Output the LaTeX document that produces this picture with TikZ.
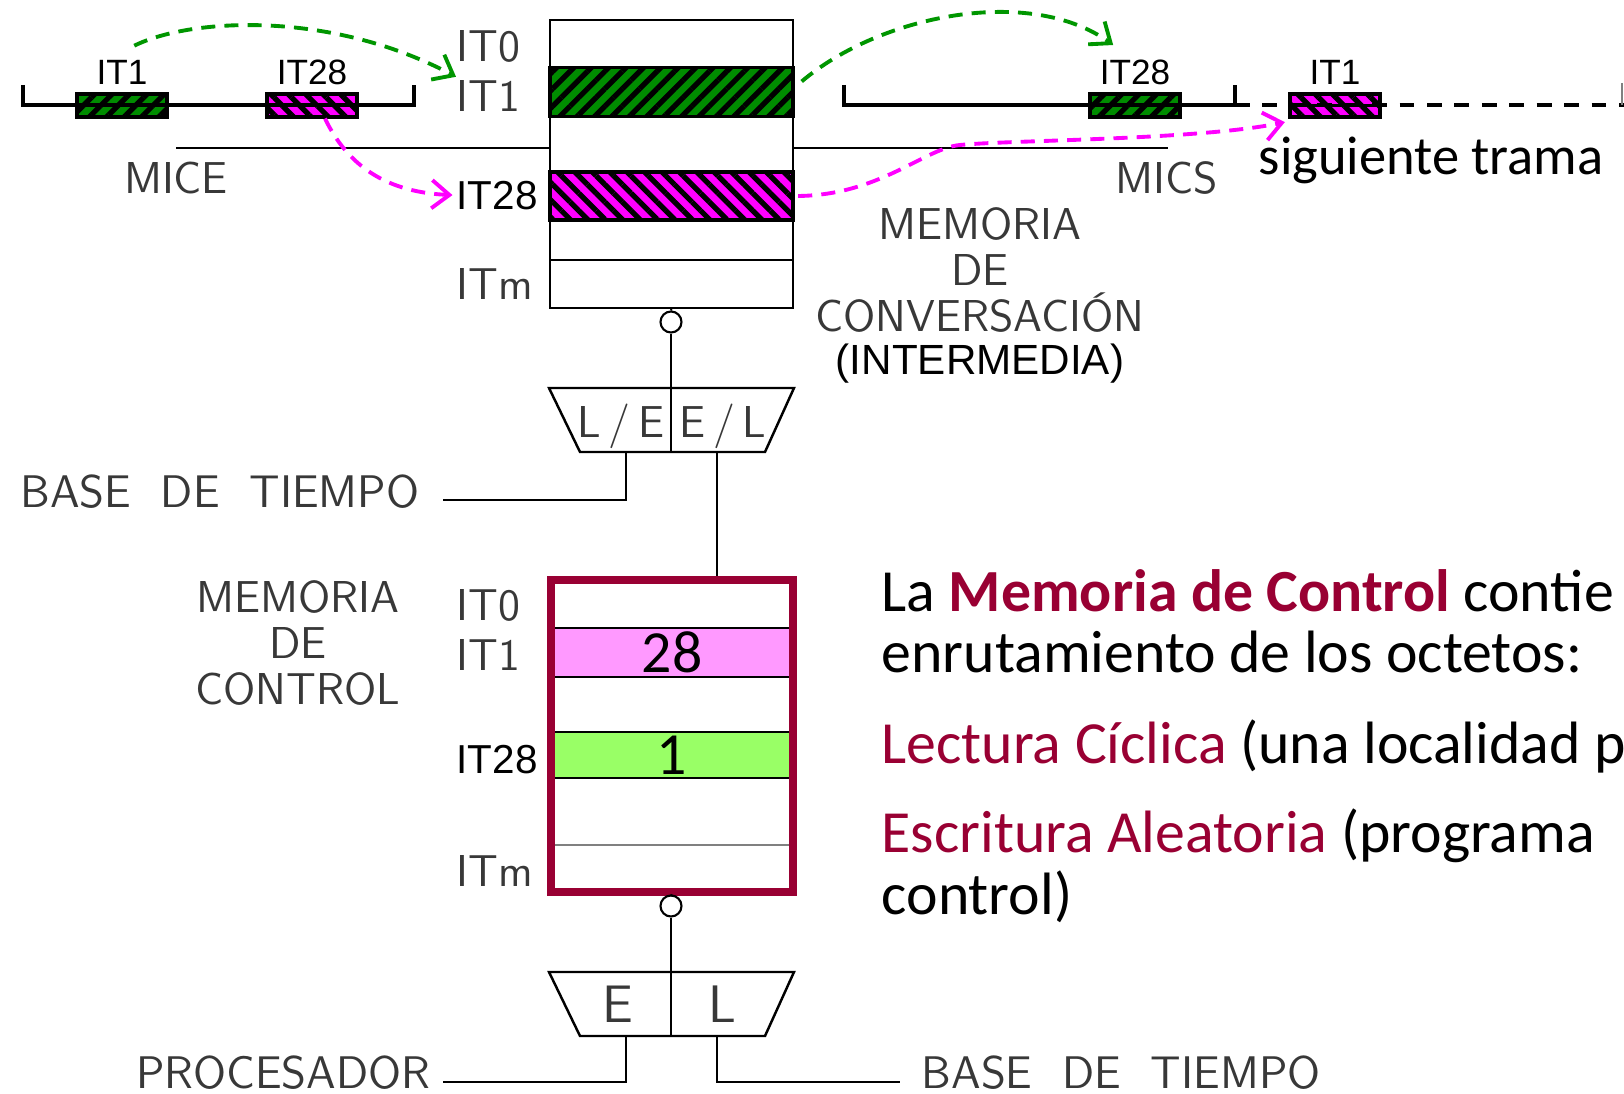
\documentclass[tikz,border=0pt]{standalone}
\usepackage{fontspec}
\usepackage{tikz}
\usetikzlibrary{arrows.meta, positioning, patterns.meta}
\newfontfamily\comicfont{Carlito}
\newfontfamily\arialfont{Liberation Sans}
\definecolor{memred}{RGB}{153,0,51}
\definecolor{hatchgreen}{RGB}{0,140,0}
\definecolor{arrowgreen}{RGB}{0,150,0}
\definecolor{slotpink}{RGB}{255,0,255}
\definecolor{cmpink}{RGB}{255,153,255}
\definecolor{cmgreen}{RGB}{153,255,102}
\definecolor{cadgray}{gray}{0.22}

\begin{document}
\begin{tikzpicture}[x=0.01cm,y=-0.01cm,
  cad/.style={font=\sffamily\fontsize{12.7}{13}\selectfont,text=cadgray,inner sep=0pt},
  cadbig/.style={font=\sffamily\fontsize{13}{13}\selectfont,text=cadgray,inner sep=0pt},
  arlbl/.style={font=\arialfont\fontsize{11.5}{12}\selectfont,inner sep=0pt},
  slotlbl/.style={font=\arialfont\fontsize{10}{10}\selectfont,inner sep=0pt},
  body/.style={font=\comicfont\fontsize{17}{20}\selectfont,anchor=base west,inner sep=0pt},
  memline/.style={line width=0.6pt},
  frameline/.style={line width=1pt},
  slot/.style={draw,line width=0.9pt,minimum width=0.9cm,minimum height=0.23cm,inner sep=0pt},
  gslot/.style={slot,fill=hatchgreen,postaction={pattern={Lines[angle=45,distance=3.5pt,line width=1.5pt]}}},
  mslot/.style={slot,fill=slotpink,postaction={pattern={Lines[angle=-45,distance=3.5pt,line width=1.5pt]}}},
  cmrow/.style={draw,line width=0.8pt,minimum width=2.42cm,inner sep=0pt,font=\comicfont\fontsize{17}{17}\selectfont},
  port/.style={circle,draw,memline,fill=white,minimum size=0.21cm,inner sep=0pt},
  flow/.style={line width=1.1pt,dash pattern=on 4pt off 2.6pt,-{Straight Barb[length=5pt,width=8pt]}}]
  \useasboundingbox (0,0) rectangle (1624,1094);

  \node[gslot] (sA) at (122,105.5) {};
  \node[mslot] (sB) at (312,105.5) {};
  \node[gslot] (rB) at (1135,105.5) {};
  \node[mslot] (rA) at (1335,105.5) {};
  \node[slotlbl,above=2pt of sA] (lA) {IT1};
  \node[slotlbl,above=2pt of sB] (lB) {IT28};
  \node[slotlbl,above=2pt of rB] (lrB) {IT28};
  \node[slotlbl,above=2pt of rA] (lrA) {IT1};
  \draw[frameline] (23,85) -- (23,105) -- (414,105) -- (414,85);
  \draw[frameline] (844,85) -- (844,105) -- (1235,105) -- (1235,85);
  \draw[frameline,dash pattern=on 4.2pt off 3.6pt] (1235,105) -- (1624,105);
  \draw[frameline] (rA.west) -- (rA.east);
  \draw[gray,line width=0.8pt] (1622,83) -- (1622,105);
  \node[body,font=\comicfont\fontsize{15.5}{18}\selectfont] (next) at (1258,175) {siguiente trama};

  \draw[memline] (176,148) -- (550,148);
  \draw[memline] (793,148) -- (1168,148);
  \node[cad,anchor=base] (mice) at (176,193) {MICE};
  \node[cad,anchor=base] (mics) at (1167,193) {MICS};

  \node[draw,memline,minimum width=2.43cm,minimum height=2.88cm,inner sep=0pt] (cvbox) at (671.5,164) {};
  \foreach \yy in {67,117,172,220,260}{
    \draw[memline] (550,\yy) -- (793,\yy);}
  \node[gslot,minimum width=2.43cm,minimum height=0.49cm] (cvg) at (671.5,92) {};
  \node[mslot,minimum width=2.43cm,minimum height=0.48cm] (cvm) at (671.5,196) {};
  \node[cad,anchor=base west] (cvl0) at (456,62) {IT0};
  \node[cad,anchor=base west] (cvl1) at (456,112) {IT1};
  \node[arlbl,anchor=base west] (cvl28) at (456,209) {IT28};
  \node[cad,anchor=base west] (cvlm) at (456,300) {ITm};
  \node[cad,align=center,anchor=north] (cvname) at (980,207) {MEMORIA\\DE\\CONVERSACIÓN};
  \node[arlbl,font=\arialfont\fontsize{12}{12}\selectfont,anchor=base] (cvsub) at (980,374) {(INTERMEDIA)};

  \draw[flow,arrowgreen] ([xshift=3.5pt,yshift=4pt]lA.north) .. controls (190,18) and (330,10) .. ([yshift=1pt]cvl1.north west);
  \draw[flow,slotpink] ([xshift=3.7pt]sB.south) .. controls (345,160) and (380,192) .. ([xshift=-1pt]cvl28.west);
  \draw[flow,arrowgreen] ([xshift=2pt,yshift=3pt]cvg.east) .. controls (880,15) and (1030,-15) .. ([xshift=4pt,yshift=4pt]lrB.north west);
  \draw[flow,slotpink] ([xshift=1pt]cvm.east) .. controls (880,195) and (925,148) .. (960,145)
    .. controls (1010,140) and (1200,140) .. ([xshift=-1pt,yshift=-1pt]rA.south west);

  \foreach \dy/\nm in {0/cvsel,584/cmsel}{
    \begin{scope}[shift={(0,\dy)}]
      \draw[line width=0.7pt] (549,388) -- (794,388) -- (765,452) -- (580,452) -- cycle;
      \draw[line width=0.7pt] (671,388) -- (671,452);
      \coordinate (\nm) at (671,388);
      \coordinate (\nm L) at (626,452);
      \coordinate (\nm R) at (717,452);
    \end{scope}}
  \node[cad,anchor=base] (cvle) at (621,437) {L\,/\,E};
  \node[cad,anchor=base] (cvel) at (723,437) {E\,/\,L};
  \node[cad,font=\sffamily\fontsize{15}{15}\selectfont,anchor=base] (cme) at (618,1022) {E};
  \node[cad,font=\sffamily\fontsize{15}{15}\selectfont,anchor=base] (cml) at (722,1022) {L};

  \node[port] (cvport) at (671,322) {};
  \draw[memline] (cvbox.south) -- (cvport.north);
  \draw[memline] (cvport.south) -- (cvsel);
  \node[cadbig,anchor=base east] (btop) at (420,507) {BASE\ \ DE\ \ TIEMPO};
  \draw[memline] (cvselL) |- ([xshift=6.5pt,yshift=2pt]btop.base east);

  \node[cmrow,fill=cmpink,minimum height=0.49cm] (cm1) at (672,652.5) {28};
  \node[cmrow,fill=cmgreen,minimum height=0.46cm] (cm28) at (672,755) {1};
  \draw[gray,memline] (551,845) -- (793,845);
  \node[draw=memred,line width=2.3pt,minimum width=2.42cm,minimum height=3.12cm,inner sep=0pt] (cmbox) at (672,736) {};
  \draw[memline] (cvselR) -- (cvselR |- cmbox.north);
  \node[cad,anchor=base west] (cml0) at (456,620) {IT0};
  \node[cad,anchor=base west] (cml1) at (456,670) {IT1};
  \node[arlbl,anchor=base west] (cml28) at (456,773) {IT28};
  \node[cad,anchor=base west] (cmlm) at (456,886) {ITm};
  \node[cad,align=center,anchor=north] (cmname) at (298,580) {MEMORIA\\DE\\CONTROL};

  \node[port] (cmport) at (671,906) {};
  \draw[memline] (cmbox.south) -- (cmport.north);
  \draw[memline] (cmport.south) -- (cmsel);
  \node[cadbig,anchor=base east] (proc) at (431,1088) {PROCESADOR};
  \node[cadbig,anchor=base west] (bbot) at (921,1088) {BASE\ \ DE\ \ TIEMPO};
  \draw[memline] (cmselL) |- ([xshift=3.4pt,yshift=1.7pt]proc.base east);
  \draw[memline] (cmselR) |- ([xshift=-6pt,yshift=1.7pt]bbot.base west);

  \node[body] (t1) at (881,611) {La \textcolor{memred}{\bfseries Memoria de Control} contie};
  \node[body] (t2) at (881,672) {enrutamiento de los octetos:};
  \node[body] (t3) at (881,763) {\textcolor{memred}{Lectura Cíclica} (una localidad p};
  \node[body] (t4) at (881,852) {\textcolor{memred}{Escritura Aleatoria} (programa};
  \node[body] (t5) at (881,914) {control)};
\end{tikzpicture}
\end{document}
